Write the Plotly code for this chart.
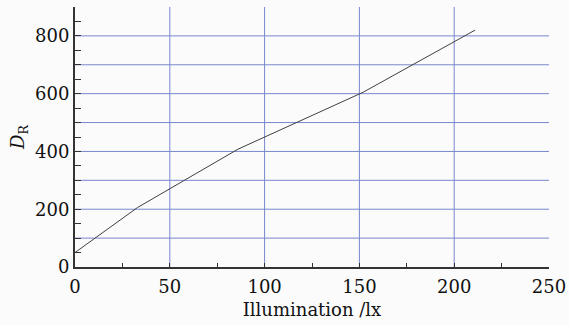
import plotly.graph_objects as go

illumination = [0, 33, 86, 152, 211]
d_r = [50, 206, 408, 605, 820]

x_ticks = [0, 50, 100, 150, 200, 250]
x_grid = [50, 100, 150, 200]
y_ticks = [0, 200, 400, 600, 800]
y_grid = [100, 200, 300, 400, 500, 600, 700, 800]

grid_color = "rgb(120,135,205)"
font = "DejaVu Serif"

fig = go.Figure()
fig.add_trace(go.Scatter(x=illumination, y=d_r, mode="lines",
                         line=dict(color="#404040", width=1), showlegend=False,
                         hoverinfo="skip"))

for gx in x_grid:
    fig.add_shape(type="line", xref="x", yref="paper", x0=gx, x1=gx, y0=0, y1=1,
                  line=dict(color=grid_color, width=1), layer="below")
for gy in y_grid:
    fig.add_shape(type="line", xref="paper", yref="y", x0=0, x1=1, y0=gy, y1=gy,
                  line=dict(color=grid_color, width=1), layer="below")

fig.update_layout(
    width=569, height=325,
    margin=dict(l=75, r=20, t=7, b=58),
    paper_bgcolor="#fbfbfb", plot_bgcolor="#fbfbfb",
    font=dict(family=font, size=18, color="#111"),
    xaxis=dict(range=[0, 250], tickvals=x_ticks, ticks="inside", ticklen=4,
               tickcolor="#333", showline=True, linecolor="#333", linewidth=2,
               showgrid=False, zeroline=False, automargin=False, ticklabelstandoff=2,
               minor=dict(dtick=25, ticks="inside", ticklen=4, tickcolor="#333", showgrid=False),
               title=dict(text="Illumination /lx", font=dict(size=18), standoff=8)),
    yaxis=dict(range=[0, 900], tickvals=y_ticks, ticks="inside", ticklen=6,
               tickcolor="#333", showline=True, linecolor="#333", linewidth=2,
               showgrid=False, zeroline=False, automargin=False,
               minor=dict(dtick=50, ticks="inside", ticklen=6, tickcolor="#333", showgrid=False),
               title=dict(text="<i>D</i><sub>R</sub>", font=dict(size=18), standoff=6)),
)

fig.write_html("out.html", config={"displayModeBar": False},
               post_script="document.body.style.margin='0';")
